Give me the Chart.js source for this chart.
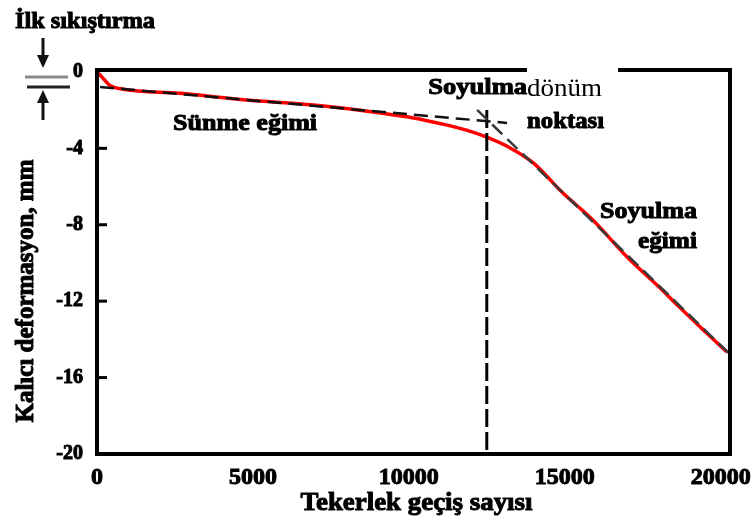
<!DOCTYPE html>
<html>
<head>
<meta charset="utf-8">
<script src="https://cdn.jsdelivr.net/npm/chart.js@4.4.0/dist/chart.umd.min.js"></script>
<style>
  html, body { margin: 0; padding: 0; background: #fff; }
  #wrap { width: 755px; height: 522px; position: relative; }
</style>
</head>
<body>
<div id="wrap"><canvas id="c"></canvas></div>
<script>
// Wheel passes and measured permanent deformation (mm)
const passes = [0, 100, 400, 850, 2650, 4800, 6950, 9100, 10150, 11000, 11850, 12500,
                13250, 14000, 14450, 14850, 15900, 17000, 18050, 18700, 19350, 20200];
const rutDepth = [0, -0.16, -0.69, -0.91, -1.12, -1.47, -1.73, -2.15, -2.41, -2.7, -3.05, -3.42,
                  -3.98, -4.77, -5.5, -6.2, -7.75, -9.69, -11.3, -12.35, -13.36, -14.66];

// Creep slope (fitted straight line)
const creepPasses = [100, 13150];
const creepDepth = [-0.79, -2.67];

// Stripping slope (fitted straight line)
const stripPasses = [12190, 20300];
const stripDepth = [-1.99, -14.78];

// Stripping inflection point
const inflectionPasses = [12500, 12500];
const inflectionDepth = [-2.0, -20];

// Axis ticks
const xTicks = [0, 5000, 10000, 15000, 20000];
const yTicks = [0, -4, -8, -12, -16, -20];

const pts = (xs, ys) => xs.map((x, i) => ({ x: x, y: ys[i] }));

const SERIF = '"Liberation Serif", "Times New Roman", serif';

// Draw text stretched/condensed to a given width
function fitText(ctx, text, x, baseline, width, font, align, stroke) {
  ctx.save();
  ctx.font = font;
  const w = ctx.measureText(text).width;
  const sx = width / w;
  const left = align === 'right' ? x - width : (align === 'center' ? x - width / 2 : x);
  ctx.translate(left, baseline);
  ctx.scale(sx, 1);
  ctx.textAlign = 'left';
  ctx.textBaseline = 'alphabetic';
  ctx.fillStyle = '#000';
  ctx.fillText(text, 0, 0);
  if (stroke) {
    ctx.strokeStyle = '#000';
    ctx.lineWidth = stroke;
    ctx.lineJoin = 'round';
    ctx.strokeText(text, 0, 0);
  }
  ctx.restore();
}

function arrowHead(ctx, x, tipY, dir) {
  // dir = 1 pointing down, -1 pointing up
  ctx.beginPath();
  ctx.moveTo(x, tipY);
  ctx.lineTo(x - 6, tipY - dir * 13);
  ctx.lineTo(x + 6, tipY - dir * 13);
  ctx.closePath();
  ctx.fill();
}

const annotations = {
  id: 'annotations',
  afterDatasetsDraw(chart) {
    const { ctx, chartArea: a, scales: { x, y } } = chart;
    ctx.save();

    // Plot frame
    ctx.strokeStyle = '#000';
    ctx.lineWidth = 4;
    ctx.strokeRect(a.left, a.top, a.right - a.left, a.bottom - a.top);

    // Inward tick marks on the deformation axis
    ctx.lineWidth = 3;
    yTicks.forEach(v => {
      if (v === 0 || v === -20) return;
      const py = y.getPixelForValue(v);
      ctx.beginPath();
      ctx.moveTo(a.left, py);
      ctx.lineTo(a.left + 10, py);
      ctx.stroke();
    });

    const bold = '700 24px ' + SERIF;
    const sw = 1;

    // Initial compaction marker
    const L = a.left;
    fitText(ctx, 'İlk sıkıştırma', L - 82, 28, 140, bold, 'left', sw);
    ctx.fillStyle = '#111';
    ctx.strokeStyle = '#111';
    ctx.lineWidth = 3;
    const ax = L - 54;
    const y0 = y.getPixelForValue(-0.27);
    const y1 = y.getPixelForValue(-0.79);
    ctx.beginPath(); ctx.moveTo(ax, 38); ctx.lineTo(ax, y0 - 18); ctx.stroke();
    arrowHead(ctx, ax, y0 - 9, 1);
    ctx.strokeStyle = '#8a8a8a';
    ctx.beginPath(); ctx.moveTo(L - 72, y0); ctx.lineTo(L - 29, y0); ctx.stroke();
    ctx.strokeStyle = '#222';
    ctx.beginPath(); ctx.moveTo(L - 70, y1); ctx.lineTo(L - 27, y1); ctx.stroke();
    ctx.strokeStyle = '#111';
    arrowHead(ctx, ax, y1 + 3, -1);
    ctx.beginPath(); ctx.moveTo(ax, y1 + 14); ctx.lineTo(ax, y1 + 33); ctx.stroke();

    // Creep slope label
    fitText(ctx, 'Sünme eğimi', x.getPixelForValue(2440), y.getPixelForValue(-3.04), 144, bold, 'left', sw);

    // Inflection point label (with white patch behind "dönüm")
    const bx0 = x.getPixelForValue(13790), bx1 = x.getPixelForValue(16710);
    ctx.fillStyle = '#fff';
    ctx.fillRect(bx0, a.top - 8, bx1 - bx0, 38);
    fitText(ctx, 'Soyulma', x.getPixelForValue(10620), y.getPixelForValue(-1.16), 99, bold, 'left', sw);
    fitText(ctx, 'dönüm', bx0, y.getPixelForValue(-1.26), 75, '400 26px ' + SERIF);
    fitText(ctx, 'noktası', bx0, y.getPixelForValue(-2.94), 77, bold, 'left', sw);

    // Stripping slope label
    const rx = x.getPixelForValue(19240);
    fitText(ctx, 'Soyulma', rx, y.getPixelForValue(-7.65), 97, bold, 'right', sw);
    fitText(ctx, 'eğimi', rx, y.getPixelForValue(-9.22), 59, bold, 'right', sw);

    // Axis titles
    fitText(ctx, 'Tekerlek geçiş sayısı', (a.left + a.right) / 2 + 3, 510, 232, '700 26px ' + SERIF, 'center', sw);
    ctx.save();
    ctx.translate(33, 291);
    ctx.rotate(-Math.PI / 2);
    fitText(ctx, 'Kalıcı deformasyon, mm', 0, 0, 263, '700 25px ' + SERIF, 'center', sw);
    ctx.restore();

    ctx.restore();
  }
};

new Chart(document.getElementById('c'), {
  type: 'line',
  data: {
    datasets: [
      {
        data: pts(creepPasses, creepDepth),
        borderColor: '#111',
        borderWidth: 2.5,
        borderDash: [14, 7],
        pointRadius: 0,
        tension: 0
      },
      {
        data: pts(stripPasses, stripDepth),
        borderColor: '#3a3a3a',
        borderWidth: 2.5,
        borderDash: [14, 7],
        pointRadius: 0,
        tension: 0
      },
      {
        data: pts(inflectionPasses, inflectionDepth),
        borderColor: '#000',
        borderWidth: 3,
        borderDash: [18, 5],
        pointRadius: 0,
        tension: 0
      },
      {
        data: pts(passes, rutDepth),
        borderColor: '#ff0000',
        borderWidth: 3.5,
        pointRadius: 0,
        cubicInterpolationMode: 'monotone'
      }
    ]
  },
  options: {
    responsive: true,
    maintainAspectRatio: false,
    animation: false,
    devicePixelRatio: 1,
    layout: { padding: { top: 70, right: 25, left: 0, bottom: 0 } },
    plugins: { legend: { display: false }, tooltip: { enabled: false } },
    scales: {
      x: {
        type: 'linear',
        min: 0,
        max: 20300,
        grid: { display: false, drawTicks: false },
        border: { display: false },
        afterBuildTicks(s) { s.ticks = xTicks.map(v => ({ value: v })); },
        afterFit(s) { s.height = 68; s.paddingLeft = 0; s.paddingRight = 0; },
        ticks: {
          autoSkip: false,
          maxRotation: 0,
          padding: 9,
          color: '#000',
          textStrokeColor: '#000',
          textStrokeWidth: 1,
          font: { family: SERIF, size: 24, weight: '700' },
          callback: v => String(v)
        }
      },
      y: {
        type: 'linear',
        min: -20,
        max: 0.1,
        grid: { display: false, drawTicks: false },
        border: { display: false },
        afterBuildTicks(s) { s.ticks = yTicks.map(v => ({ value: v })); },
        afterFit(s) { s.width = 97; s.paddingTop = 0; s.paddingBottom = 0; },
        ticks: {
          padding: 14,
          color: '#000',
          textStrokeColor: '#000',
          textStrokeWidth: 1,
          font: { family: SERIF, size: 20, weight: '700' },
          callback: v => String(v)
        }
      }
    }
  },
  plugins: [annotations]
});
</script>
</body>
</html>
